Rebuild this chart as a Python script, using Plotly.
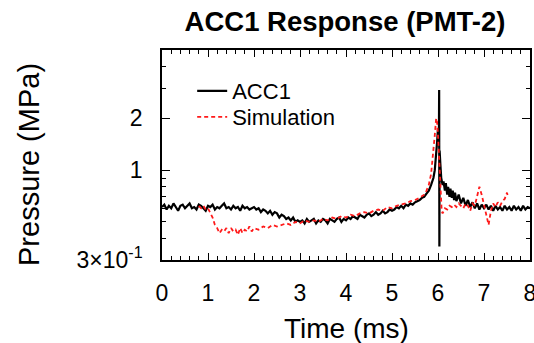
import plotly.graph_objects as go

# ---------------- data ----------------
acc1_t = [round(i * 0.05, 2) for i in range(0, 117)] + [
    5.85, 5.9, 5.93, 5.96, 5.98, 6.0, 6.02, 6.025, 6.03, 6.035, 6.05, 6.07,
    6.1, 6.12, 6.15, 6.17, 6.2, 6.22, 6.25, 6.27, 6.3, 6.32, 6.35, 6.37, 6.4,
    6.45, 6.5, 6.55, 6.6, 6.65, 6.7, 6.75, 6.8, 6.85, 6.9, 6.95, 7.0, 7.05,
    7.1, 7.15, 7.2, 7.25, 7.3, 7.35, 7.4, 7.45, 7.5, 7.55, 7.6, 7.65, 7.7,
    7.75, 7.8, 7.85, 7.9, 7.95, 8.0]
acc1_p = [
    # 0.00 - 2.00
    0.61, 0.63, 0.59, 0.62, 0.60, 0.64, 0.61, 0.58, 0.62, 0.63,
    0.60, 0.62, 0.64, 0.60, 0.61, 0.59, 0.63, 0.62, 0.60, 0.58,
    0.62, 0.61, 0.63, 0.59, 0.61, 0.60, 0.62, 0.64, 0.60, 0.61,
    0.59, 0.62, 0.60, 0.61, 0.58, 0.62, 0.60, 0.61, 0.59, 0.60,
    0.61,
    # 2.05 - 3.00
    0.59, 0.60, 0.57, 0.59, 0.58, 0.56, 0.58, 0.55, 0.57, 0.56,
    0.53, 0.55, 0.54, 0.52, 0.53, 0.51, 0.53, 0.50, 0.51, 0.50,
    # 3.05 - 4.00
    0.51, 0.49, 0.52, 0.50, 0.51, 0.52, 0.49, 0.51, 0.50, 0.52,
    0.51, 0.49, 0.52, 0.51, 0.50, 0.52, 0.53, 0.50, 0.52, 0.51,
    # 4.05 - 5.00
    0.53, 0.52, 0.54, 0.53, 0.52, 0.55, 0.54, 0.53, 0.55, 0.56,
    0.54, 0.55, 0.57, 0.55, 0.56, 0.58, 0.56, 0.57, 0.59, 0.58,
    # 5.05 - 5.80
    0.59, 0.61, 0.60, 0.62, 0.60, 0.63, 0.62, 0.64, 0.63, 0.65,
    0.66, 0.67, 0.69, 0.70, 0.73, 0.76,
    # 5.85 - 8.00
    0.82, 0.90, 1.00, 1.20, 1.45, 1.75, 1.60, 2.93, 0.36, 1.30, 1.10, 0.90,
    0.82, 0.86, 0.76, 0.84, 0.72, 0.80, 0.70, 0.78, 0.69, 0.76, 0.67, 0.74, 0.66,
    0.72, 0.64, 0.69, 0.62, 0.67, 0.61, 0.65, 0.60, 0.64, 0.59, 0.63, 0.60, 0.63,
    0.59, 0.62, 0.58, 0.62, 0.59, 0.61, 0.58, 0.62, 0.59, 0.61, 0.58, 0.62, 0.59,
    0.61, 0.58, 0.62, 0.59, 0.61, 0.60]

sim_t = [0.8, 0.85, 0.9, 0.95, 1.0, 1.05, 1.1, 1.15, 1.2, 1.25, 1.3, 1.35, 1.4,
         1.45, 1.5, 1.55, 1.6, 1.65, 1.7, 1.75, 1.8, 1.85, 1.9, 1.95, 2.0, 2.1,
         2.2, 2.3, 2.4, 2.5, 2.6, 2.7, 2.8, 2.9, 3.0, 3.1, 3.2, 3.3, 3.4, 3.5,
         3.6, 3.7, 3.8, 3.9, 4.0, 4.1, 4.2, 4.3, 4.4, 4.5, 4.6, 4.7, 4.8, 4.9,
         5.0, 5.1, 5.2, 5.3, 5.4, 5.5, 5.6, 5.7, 5.75, 5.8, 5.85, 5.9, 5.93,
         5.96, 5.98, 6.0, 6.02, 6.04, 6.06, 6.08, 6.1, 6.15, 6.2, 6.25, 6.3,
         6.35, 6.4, 6.45, 6.5, 6.55, 6.6, 6.65, 6.7, 6.75, 6.8, 6.85, 6.9,
         6.95, 7.0, 7.05, 7.1, 7.15, 7.2, 7.25, 7.3, 7.35, 7.4, 7.45, 7.5, 7.52]
sim_p = [0.62, 0.60, 0.62, 0.59, 0.60, 0.56, 0.53, 0.48, 0.46, 0.43, 0.45,
         0.44, 0.46, 0.43, 0.46, 0.44, 0.45, 0.42, 0.46, 0.43, 0.45, 0.44,
         0.47, 0.44, 0.46, 0.45, 0.47, 0.46, 0.48, 0.47, 0.48, 0.49, 0.48,
         0.50, 0.49, 0.51, 0.50, 0.51, 0.50, 0.52, 0.51, 0.53, 0.52, 0.54,
         0.53, 0.55, 0.54, 0.56, 0.57, 0.56, 0.58, 0.59, 0.58, 0.61, 0.60,
         0.62, 0.63, 0.64, 0.66, 0.67, 0.69, 0.72, 0.76, 0.82, 0.95, 1.25,
         1.60, 2.00, 1.90, 1.60, 1.20, 0.90, 0.70, 0.58, 0.56, 0.60, 0.59,
         0.62, 0.61, 0.63, 0.61, 0.64, 0.62, 0.60, 0.64, 0.62, 0.58, 0.64,
         0.62, 0.70, 0.80, 0.72, 0.62, 0.55, 0.48, 0.58, 0.64, 0.61, 0.65,
         0.62, 0.66, 0.68, 0.74, 0.70]

x_ticks = [0, 1, 2, 3, 4, 5, 6, 7, 8]
y_ticks = [0.3, 1, 2]
y_ticktext = ["3×10<sup>-1</sup>", "1", "2"]
y_minor = [0.4, 0.5, 0.6, 0.7, 0.8, 0.9, 3, 4, 5]

title_text = "ACC1 Response (PMT-2)"
x_title = "Time (ms)"
y_title = "Pressure (MPa)"

FONT = "Liberation Sans, Arial, sans-serif"

fig = go.Figure()
fig.add_trace(go.Scatter(x=acc1_t, y=acc1_p, mode="lines", name="ACC1",
                         line=dict(color="black", width=2.2), legend="legend"))
fig.add_trace(go.Scatter(x=sim_t, y=sim_p, mode="lines", name="Simulation",
                         line=dict(color="#ff1a1a", width=1.8, dash="4px,3px"),
                         legend="legend2"))

axis_common = dict(showline=True, linecolor="black", linewidth=1.5,
                   mirror="ticks", ticks="inside", tickcolor="black",
                   tickwidth=1.3, showgrid=False, zeroline=False,
                   ticklabeloverflow="allow", automargin=False)

legend_common = dict(xanchor="left", yanchor="middle",
                     bgcolor="rgba(0,0,0,0)", font=dict(size=22),
                     itemwidth=30)

fig.update_layout(
    width=534, height=343,
    margin=dict(l=162, r=4, t=50, b=83, autoexpand=False),
    paper_bgcolor="white", plot_bgcolor="white",
    font=dict(family=FONT, color="black"),
    title=dict(text="<b>" + title_text + "</b>", x=345 / 534, xanchor="center",
               y=1 - 21 / 343, yanchor="middle",
               font=dict(size=27.5, family=FONT, color="black")),
    xaxis=dict(range=[0, 8], tickmode="array", tickvals=x_ticks,
               ticklen=7, tickfont=dict(size=23), ticklabelstandoff=12,
               minor=dict(dtick=0.2, tick0=0, ticklen=4, ticks="inside",
                          tickcolor="black", tickwidth=1.2),
               **axis_common),
    yaxis=dict(type="log", range=[-0.5229, 0.699], tickmode="array",
               tickvals=y_ticks, ticktext=y_ticktext,
               ticklen=8, tickfont=dict(size=23), ticklabelstandoff=13,
               minor=dict(tickmode="array", tickvals=y_minor, ticklen=4,
                          ticks="inside", tickcolor="black", tickwidth=1.2),
               **axis_common),
    legend=dict(x=0.082, y=(260 - 91) / 210, **legend_common),
    legend2=dict(x=0.082, y=(260 - 117) / 210, **legend_common),
    showlegend=True,
    annotations=[
        dict(text=x_title, xref="paper", yref="paper", x=0.5,
             y=(260 - 328) / 210, xanchor="center", yanchor="middle",
             showarrow=False, font=dict(size=28)),
        dict(text=y_title, xref="paper", yref="paper",
             x=(29 - 162) / 368, y=(260 - 165) / 210, xanchor="center",
             yanchor="middle", textangle=-90, showarrow=False,
             font=dict(size=29)),
    ],
)

fig.write_html("out.html")
